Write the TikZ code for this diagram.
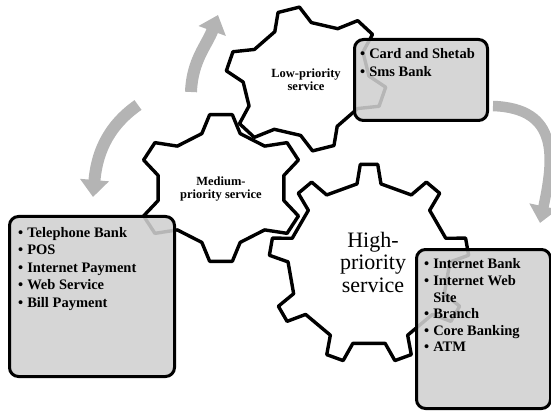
\documentclass[tikz,border=0pt]{standalone}
\usepackage{fontspec}
\setmainfont{Liberation Serif}
\usepackage{xcolor}
\usepackage{tikz}
\usetikzlibrary{arrows.meta}

\definecolor{boxgray}{HTML}{D0D0D0}
\definecolor{arrowgray}{HTML}{B4B4B4}

% gear outline: #1 teeth, #2 tip radius, #3 root radius, #4 half tip angle, #5 half base angle
\newcommand{\gearpath}[5]{(90+#5:#3) \foreach \k [evaluate=\k as \tang using 90+360/#1*\k] in {1,...,#1} {-- (\tang-#5:#3) -- (\tang-#4:#2) -- (\tang+#4:#2) -- (\tang+#5:#3)} -- cycle}

\begin{document}
\begin{tikzpicture}[x=1pt, y=1pt,
  gearline/.style={draw=black, line width=3.4pt, line join=round, fill=white},
  gearlabel/.style={align=center, inner sep=0pt, font=\fontsize{12.5}{13}\bfseries\selectfont},
  listbox/.style={draw=black, line width=3pt, rounded corners=9pt, fill=boxgray, fill opacity=0.88, anchor=north west, inner sep=0pt},
  listtext/.style={anchor=north west, inner sep=0pt, font=\fontsize{14.5}{17.5}\bfseries\selectfont},
  cyclearrow/.style={draw=arrowgray, line width=12pt, -{Triangle[length=17pt, width=28pt]}}]
  \useasboundingbox (0,0) rectangle (551,410);

  %% circular arrows
  \coordinate (upstart) at (191,318);
  \coordinate (upend) at (218,395);
  \coordinate (leftstart) at (138,305);
  \coordinate (leftend) at (93,213);
  \coordinate (rightstart) at (493,304);
  \coordinate (rightend) at (540,187);
  \draw[cyclearrow] (upstart) to[out=88, in=250] (upend);
  \draw[cyclearrow] (leftstart) to[out=215, in=85] (leftend);
  \draw[cyclearrow, line width=10.5pt] (rightstart) to[out=-2, in=78, looseness=1.35] (rightend);

  %% gears
  \coordinate (lowc) at (306,331);
  \coordinate (medc) at (221,222);
  \coordinate (highc) at (369,146);
  \draw[gearline, shift={(lowc)}, rotate=14, xscale=1.13] \gearpath{6}{72}{56}{7.8}{17.3};
  \draw[gearline, shift={(medc)}, xscale=1.13] \gearpath{6}{74}{57}{7.8}{17.3};
  \draw[gearline, shift={(highc)}] \gearpath{9}{100}{81}{5}{8.5};

  %% gear labels
  \node[gearlabel] (lowlabel) at (306,330) {Low-priority\\service};
  \node[gearlabel] (medlabel) at (221,221) {Medium-\\priority service};
  \node[align=center, inner sep=0pt, font=\fontsize{22}{22.5}\selectfont] (highlabel) at (373,148) {High-\\priority\\service};

  %% service lists
  \node[listbox, minimum width=133pt, minimum height=81pt] (lowbox) at (353,372) {};
  \node[listbox, minimum width=165pt, minimum height=160pt] (medbox) at (8,195) {};
  \node[listbox, minimum width=134pt, minimum height=159pt] (highbox) at (415,162) {};

  \node[listtext, font=\fontsize{14.5}{18}\bfseries\selectfont] (lowlist) at ([shift={(7,-8)}]lowbox.north west)
    {\begin{tabular}{@{}l@{\hspace{4pt}}l@{}}\textbullet & Card and Shetab\\ \textbullet & Sms Bank\end{tabular}};
  \node[listtext] (medlist) at ([shift={(10,-10)}]medbox.north west)
    {\begin{tabular}{@{}l@{\hspace{4pt}}l@{}}\textbullet & Telephone Bank\\ \textbullet & POS\\ \textbullet & Internet Payment\\ \textbullet & Web Service\\ \textbullet & Bill Payment\end{tabular}};
  \node[listtext, font=\fontsize{14.5}{16.6}\bfseries\selectfont] (highlist) at ([shift={(9,-9)}]highbox.north west)
    {\begin{tabular}{@{}l@{\hspace{4pt}}l@{}}\textbullet & Internet Bank\\ \textbullet & Internet Web\\ & Site\\ \textbullet & Branch\\ \textbullet & Core Banking\\ \textbullet & ATM\end{tabular}};
\end{tikzpicture}
\end{document}
